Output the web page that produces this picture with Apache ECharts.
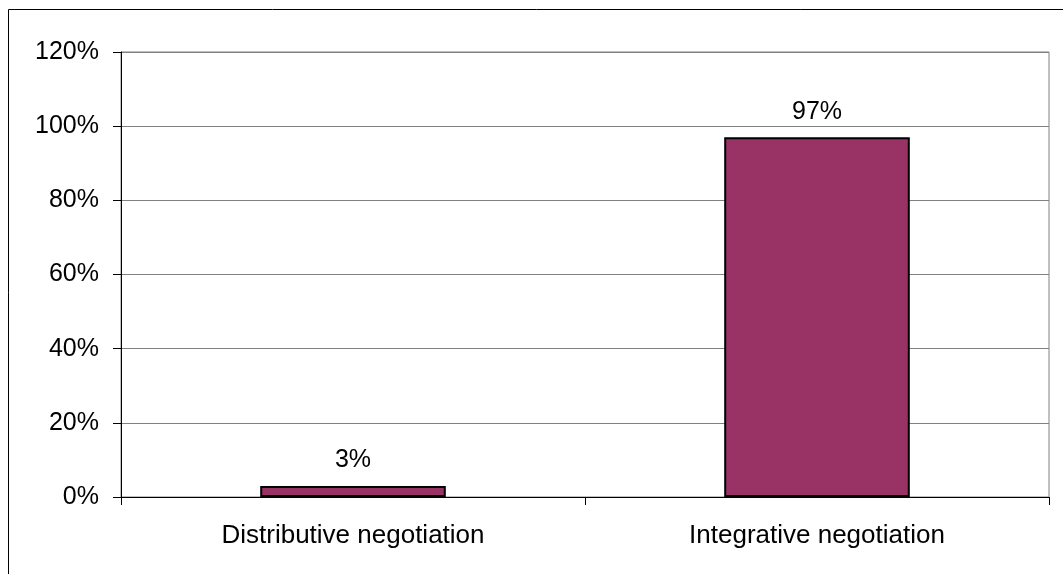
<!DOCTYPE html>
<html><head><meta charset="utf-8">
<script src="https://cdn.jsdelivr.net/npm/echarts@6/dist/echarts.min.js"></script>
<style>html,body{margin:0;padding:0;background:#fff}#c{width:1063px;height:574px}</style>
</head><body><div id="c"></div>
<script>
const categories = ['Distributive negotiation', 'Integrative negotiation'];
const values = [0.03, 0.97];
const yTicks = [0, 0.2, 0.4, 0.6, 0.8, 1.0, 1.2];

const chart = echarts.init(document.getElementById('c'), null, {renderer: 'canvas'});
const font = 'Liberation Sans, Arial, sans-serif';
chart.setOption({
  animation: false,
  graphic: [{
    type: 'rect', shape: {x: 8.5, y: 9.5, width: 1070, height: 580},
    style: {fill: 'none', stroke: '#000', lineWidth: 1}, z: 100
  }],
  grid: {left: 121, right: 14, top: 52, bottom: 77, show: true, borderColor: '#808080', borderWidth: 1},
  xAxis: {
    type: 'category', data: categories,
    axisLine: {lineStyle: {color: '#000', width: 1}},
    axisTick: {show: true, length: 8, lineStyle: {color: '#000'}},
    axisLabel: {color: '#000', fontSize: 26, fontFamily: font, margin: 26}
  },
  yAxis: {
    type: 'value', min: yTicks[0], max: yTicks[yTicks.length - 1], interval: 0.2,
    axisLine: {show: true, lineStyle: {color: '#000', width: 1}},
    axisTick: {show: true, length: 8, lineStyle: {color: '#000'}},
    splitLine: {lineStyle: {color: '#808080', width: 1}},
    axisLabel: {color: '#000', fontSize: 25, fontFamily: font, margin: 22,
      formatter: v => Math.round(v * 100) + '%'}
  },
  series: [{
    type: 'bar', data: values, barWidth: '40%',
    itemStyle: {color: '#993366', borderColor: '#000', borderWidth: 2},
    label: {show: true, position: 'top', distance: 13, color: '#000', fontSize: 25, fontFamily: font,
      formatter: p => Math.round(p.value * 100) + '%'}
  }]
});
</script></body></html>
